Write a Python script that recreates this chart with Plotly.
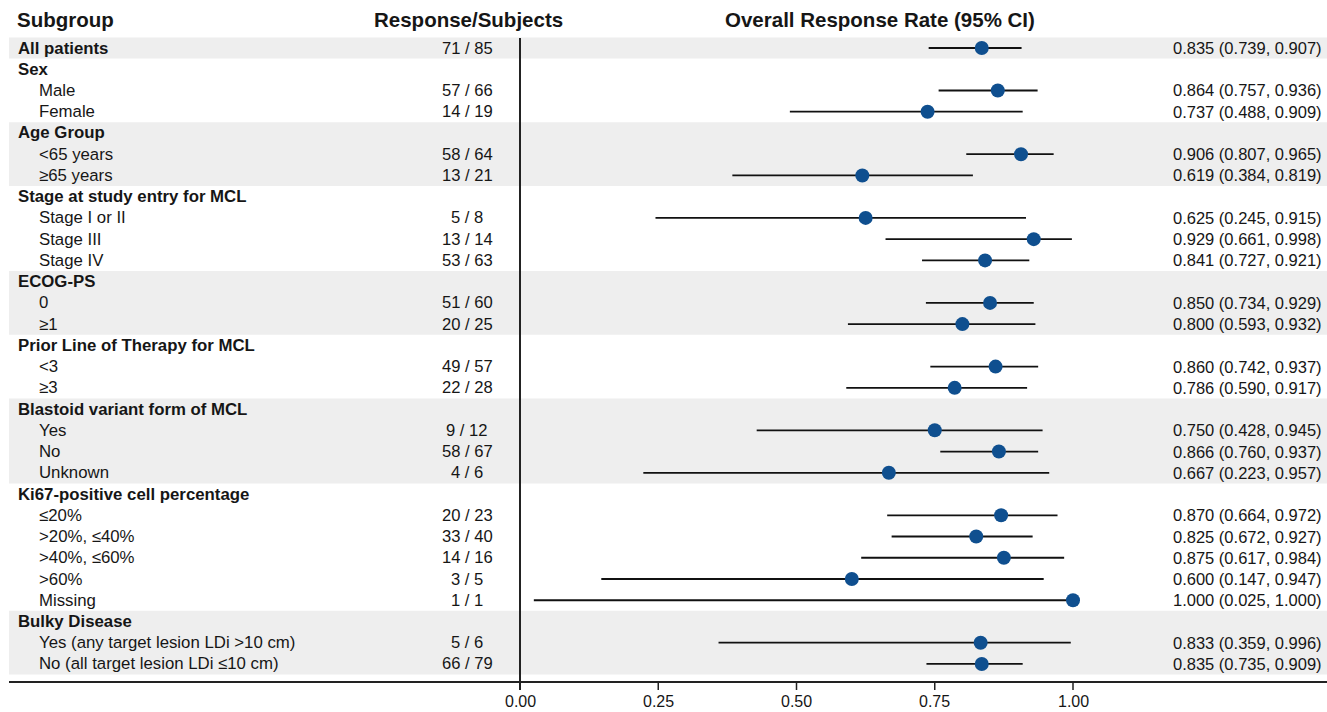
import plotly.graph_objects as go

labels = ["All patients", "Sex", "Male", "Female", "Age Group", "<65 years", "≥65 years",
          "Stage at study entry for MCL", "Stage I or II", "Stage III", "Stage IV",
          "ECOG-PS", "0", "≥1", "Prior Line of Therapy for MCL", "<3", "≥3",
          "Blastoid variant form of MCL", "Yes", "No", "Unknown",
          "Ki67-positive cell percentage", "≤20%", ">20%, ≤40%", ">40%, ≤60%", ">60%", "Missing",
          "Bulky Disease", "Yes (any target lesion LDi >10 cm)", "No (all target lesion LDi ≤10 cm)"]
is_header = [True, True, False, False, True, False, False, True, False, False, False,
             True, False, False, True, False, False, True, False, False, False,
             True, False, False, False, False, False, True, False, False]
resp = ["71 / 85", "", "57 / 66", "14 / 19", "", "58 / 64", "13 / 21", "", "5 / 8", "13 / 14", "53 / 63",
        "", "51 / 60", "20 / 25", "", "49 / 57", "22 / 28", "", "9 / 12", "58 / 67", "4 / 6",
        "", "20 / 23", "33 / 40", "14 / 16", "3 / 5", "1 / 1", "", "5 / 6", "66 / 79"]
rate = [0.835, None, 0.864, 0.737, None, 0.906, 0.619, None, 0.625, 0.929, 0.841,
        None, 0.850, 0.800, None, 0.860, 0.786, None, 0.750, 0.866, 0.667,
        None, 0.870, 0.825, 0.875, 0.600, 1.000, None, 0.833, 0.835]
lo = [0.739, None, 0.757, 0.488, None, 0.807, 0.384, None, 0.245, 0.661, 0.727,
      None, 0.734, 0.593, None, 0.742, 0.590, None, 0.428, 0.760, 0.223,
      None, 0.664, 0.672, 0.617, 0.147, 0.025, None, 0.359, 0.735]
hi = [0.907, None, 0.936, 0.909, None, 0.965, 0.819, None, 0.915, 0.998, 0.921,
      None, 0.929, 0.932, None, 0.937, 0.917, None, 0.945, 0.937, 0.957,
      None, 0.972, 0.927, 0.984, 0.947, 1.000, None, 0.996, 0.909]
shaded_groups = [(0, 0), (4, 6), (11, 13), (17, 20), (27, 29)]
tick_vals = [0.0, 0.25, 0.5, 0.75, 1.0]
tick_text = ["0.00", "0.25", "0.50", "0.75", "1.00"]
headers = ["Subgroup", "Response/Subjects", "Overall Response Rate (95% CI)"]

W, H = 1327, 712
PX = 553.0      # px per unit on x
X0 = 520.0      # pixel of x=0
ROW0 = 48.0
ROWH = 21.24

def px2x(p):
    return (p - X0) / PX

def py2y(p):
    return (p - ROW0) / ROWH

BLUE = "#0f4f8f"
FONT = "Liberation Sans, Arial, sans-serif"
TXT = "#161616"

fig = go.Figure()
shapes = []
for a, b in shaded_groups:
    shapes.append(dict(type="rect", xref="x", yref="y", x0=px2x(9), x1=px2x(1327),
                       y0=a - 0.5, y1=b + 0.5, fillcolor="#eeeeee", line_width=0, layer="below"))
# vertical reference line
shapes.append(dict(type="line", xref="x", yref="y", x0=0, x1=0, y0=py2y(38), y1=py2y(690),
                   line=dict(color="#222222", width=2)))
# bottom axis line
shapes.append(dict(type="line", xref="x", yref="y", x0=px2x(9), x1=px2x(1327),
                   y0=py2y(682), y1=py2y(682), line=dict(color="#222222", width=2)))
for tv in tick_vals:
    shapes.append(dict(type="line", xref="x", yref="y", x0=tv, x1=tv, y0=py2y(682), y1=py2y(690),
                       line=dict(color="#222222", width=1.5)))

# CI lines
for i, (r, l, h) in enumerate(zip(rate, lo, hi)):
    if r is None:
        continue
    fig.add_trace(go.Scatter(x=[l, h], y=[i, i], mode="lines",
                             line=dict(color="#111111", width=1.8), hoverinfo="skip", showlegend=False))

pts_x = [r for r in rate if r is not None]
pts_y = [i for i, r in enumerate(rate) if r is not None]
fig.add_trace(go.Scatter(x=pts_x, y=pts_y, mode="markers",
                         marker=dict(color=BLUE, size=14, line=dict(width=0)), showlegend=False))

annotations = []
for i, lab in enumerate(labels):
    if is_header[i]:
        txt = "<b>" + lab + "</b>"
        xp = 16
    else:
        txt = lab
        xp = 37
    annotations.append(dict(x=px2x(xp), y=i, xref="x", yref="y", text=txt, showarrow=False,
                            xanchor="left", yanchor="middle", font=dict(size=16.8, color=TXT, family=FONT)))
    if resp[i]:
        annotations.append(dict(x=px2x(467), y=i, xref="x", yref="y", text=resp[i], showarrow=False,
                                xanchor="center", yanchor="middle", font=dict(size=16.6, color=TXT, family=FONT)))
    if rate[i] is not None:
        s = f"{rate[i]:.3f} ({lo[i]:.3f}, {hi[i]:.3f})"
        annotations.append(dict(x=px2x(1324), y=i, xref="x", yref="y", text=s, showarrow=False,
                                xanchor="right", yanchor="middle", font=dict(size=16.5, color=TXT, family=FONT)))

hdr_y = py2y(19)
annotations.append(dict(x=px2x(15), y=hdr_y, xref="x", yref="y", text="<b>" + headers[0] + "</b>",
                        showarrow=False, xanchor="left", yanchor="middle",
                        font=dict(size=20.5, color=TXT, family=FONT)))
annotations.append(dict(x=px2x(468), y=hdr_y, xref="x", yref="y", text="<b>" + headers[1] + "</b>",
                        showarrow=False, xanchor="center", yanchor="middle",
                        font=dict(size=20.5, color=TXT, family=FONT)))
annotations.append(dict(x=px2x(880), y=hdr_y, xref="x", yref="y", text="<b>" + headers[2] + "</b>",
                        showarrow=False, xanchor="center", yanchor="middle",
                        font=dict(size=20.5, color=TXT, family=FONT)))
for tv, tt in zip(tick_vals, tick_text):
    annotations.append(dict(x=tv, y=py2y(701.5), xref="x", yref="y", text=tt, showarrow=False,
                            xanchor="center", yanchor="middle", borderpad=0,
                            font=dict(size=16, color=TXT, family=FONT)))

fig.update_layout(
    width=W, height=H, margin=dict(l=0, r=0, t=0, b=0),
    plot_bgcolor="white", paper_bgcolor="white",
    shapes=shapes, annotations=annotations,
    xaxis=dict(range=[px2x(0), px2x(W)], visible=False, fixedrange=True),
    yaxis=dict(range=[py2y(H), py2y(0)], visible=False, fixedrange=True),
    showlegend=False,
)
fig.write_html("out.html", config={"displayModeBar": False},
               post_script="document.body.style.margin='0px';document.body.style.overflow='hidden';")
